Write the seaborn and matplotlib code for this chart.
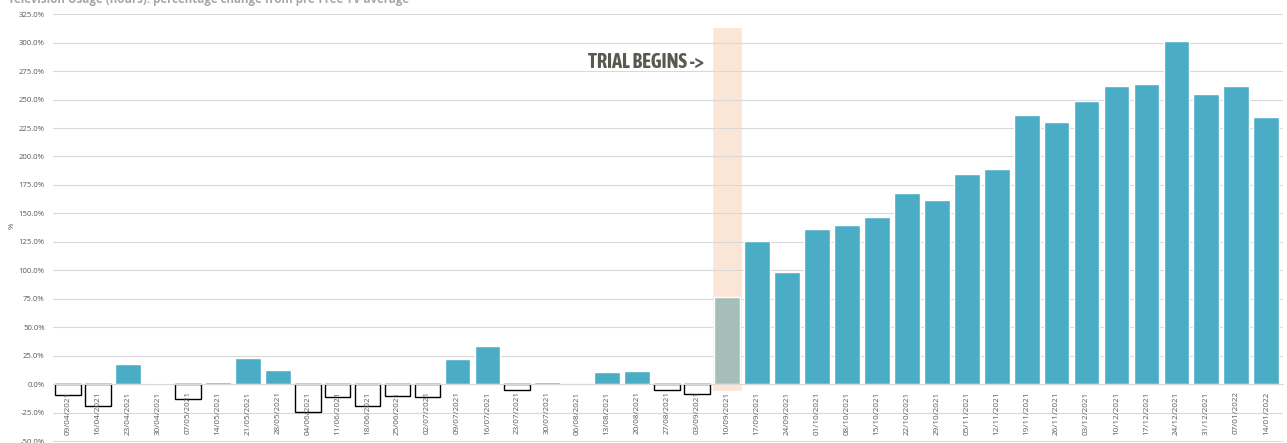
import matplotlib
matplotlib.use("Agg")
import matplotlib.pyplot as plt
from matplotlib import font_manager
import seaborn as sns
import numpy as np
import pandas as pd

# ============================================================
# DATA
# ============================================================
weeks = [
    "09/04/2021", "16/04/2021", "23/04/2021", "30/04/2021", "07/05/2021",
    "14/05/2021", "21/05/2021", "28/05/2021", "04/06/2021", "11/06/2021",
    "18/06/2021", "25/06/2021", "02/07/2021", "09/07/2021", "16/07/2021",
    "23/07/2021", "30/07/2021", "06/08/2021", "13/08/2021", "20/08/2021",
    "27/08/2021", "03/09/2021", "10/09/2021", "17/09/2021", "24/09/2021",
    "01/10/2021", "08/10/2021", "15/10/2021", "22/10/2021", "29/10/2021",
    "05/11/2021", "12/11/2021", "19/11/2021", "26/11/2021", "03/12/2021",
    "10/12/2021", "17/12/2021", "24/12/2021", "31/12/2021", "07/01/2022",
    "14/01/2022",
]
pct_change = [
    -9, -19, 17.5, 1, -13, 2.5, 22.8, 13, -24.5, -11,
    -19, -10, -11, 22, 34, -4.5, 2, 0.5, 10.5, 11.5,
    -5, -8, 77, 126, 99, 136, 140, 147, 168, 162,
    185, 189, 236.5, 230, 249, 262, 263.5, 301, 255, 262,
    235,
]
trial_week = "10/09/2021"
trial_band = (-6, 314)   # bottom / top of the highlight column (%)
yticks = list(range(-50, 326, 25))

title = "Television Usage (hours): percentage change from pre-Free TV average"

df = pd.DataFrame({"week": weeks, "pct": pct_change})

# ============================================================
# PLOT
# ============================================================
sns.set_style("white")
plt.rcParams["font.family"] = ["Open Sans", "DejaVu Sans"]

fig = plt.figure(figsize=(12.87, 4.43), dpi=100)
ax = fig.add_axes([0.0412, 0.0023, 0.9555, 0.966])

BLUE = "#4BACC6"
TRIAL = "#A5BEBA"
colors = [TRIAL if w == trial_week else BLUE for w in weeks]

trial_idx = weeks.index(trial_week)
ax.bar(trial_idx, trial_band[1] - trial_band[0], bottom=trial_band[0],
       width=1.02, color="#FBE5D6", zorder=0.5)

sns.barplot(data=df, x="week", y="pct", hue="week", palette=colors,
            legend=False, width=0.86, saturation=1, ax=ax, zorder=2)

for patch, v in zip(ax.patches[1:], pct_change):
    if v < 0:
        patch.set_facecolor("white")
        patch.set_edgecolor("black")
        patch.set_linewidth(1.0)
        patch.set_zorder(1.5)

ax.set_ylim(-50.5, 325)
ax.set_xlim(-0.5, len(weeks) - 0.5 + 0.05)
ax.set_yticks(yticks)
ax.set_yticklabels([f"{t:.1f}%" for t in yticks], fontsize=5.6, color="#595959")
ax.yaxis.grid(True, color="#D9D9D9", linewidth=0.8)
ax.set_axisbelow(True)
ax.xaxis.set_zorder(4)
ax.tick_params(axis="y", length=0, pad=6)

for s in ["top", "right", "left"]:
    ax.spines[s].set_visible(False)
ax.spines["bottom"].set_position(("data", 0))
ax.spines["bottom"].set_color("#D9D9D9")
ax.spines["bottom"].set_zorder(3)

ax.set_xticks(range(len(weeks)))
ax.set_xticklabels(weeks, rotation=90, fontsize=5.9, color="#595959")
ax.tick_params(axis="x", which="major", length=0, pad=5)
ax.set_xticks(np.arange(-0.5, len(weeks), 1), minor=True)
ax.tick_params(axis="x", which="minor", length=3, color="#BFBFBF",
               direction="inout", width=0.8)

ax.set_xlabel("")
ax.set_ylabel("")
fig.text(0.0095, 0.49, "%", rotation=90, fontsize=5.5, color="#595959",
         ha="center", va="center")

# condensed font for the annotation, bold one preferred
cond = [f for f in font_manager.fontManager.ttflist
        if "Condensed" in f.name or "Narrow" in f.name]
bold_cond = sorted({f.name for f in cond
                    if isinstance(f.weight, int) and f.weight >= 600
                    or f.weight in ("bold", "semibold", "heavy", "black")})
ann_family = (bold_cond or sorted({f.name for f in cond}))[:1] + ["DejaVu Sans"]

ann = ax.text(19.3, 283, "TRIAL BEGINS ->", fontsize=12, fontweight="bold",
              color="#595950", ha="center", va="center",
              family=ann_family, zorder=5)
fig.canvas.draw()
w = ann.get_window_extent().width
ann.set_fontsize(12 * 116 / w)

fig.text(0.006, 1.0, title, fontsize=8.3, fontweight="bold",
         color="#A6A6A6", ha="left", va="center")

fig.savefig("out.png", dpi=100)
